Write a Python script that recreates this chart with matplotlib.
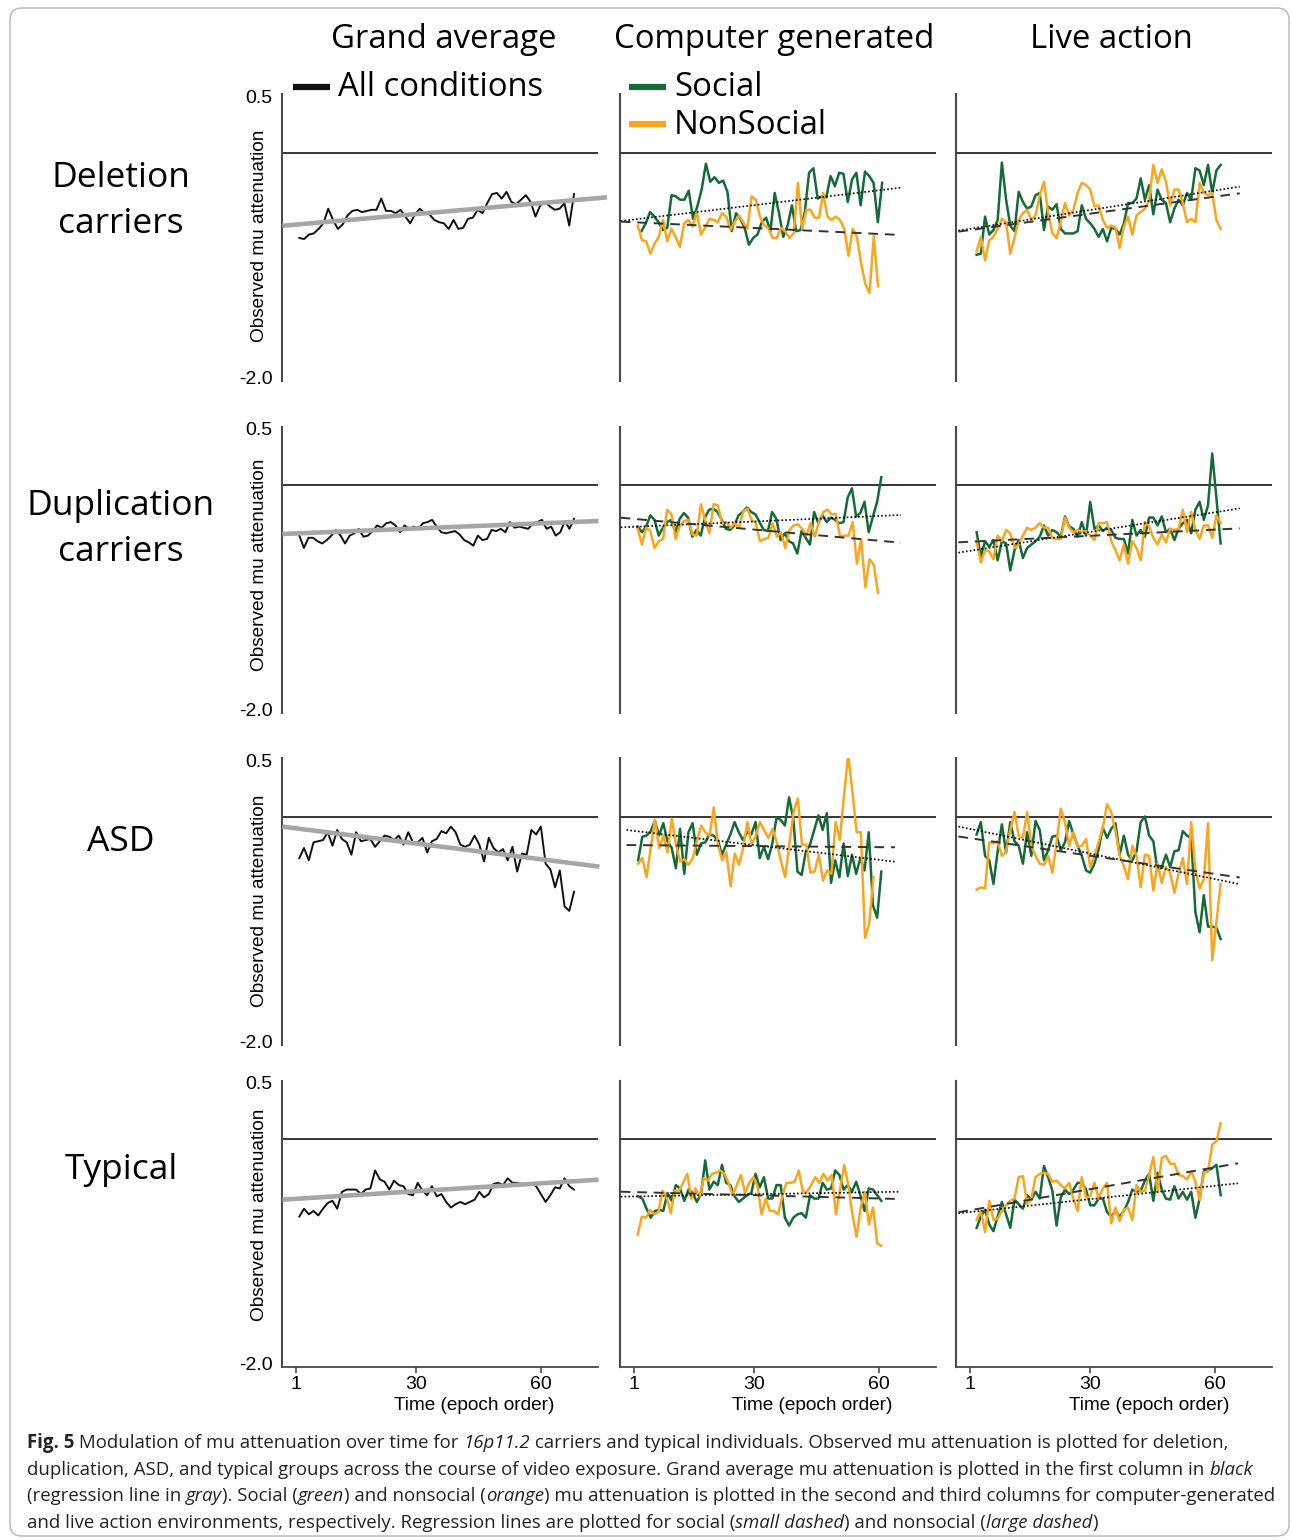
import numpy as np
import matplotlib
matplotlib.use("Agg")
import matplotlib.pyplot as plt
from matplotlib.lines import Line2D
from matplotlib.patches import FancyBboxPatch
from matplotlib.transforms import IdentityTransform

# ---------------------------------------------------------
# Values (mu attenuation per epoch)
# ---------------------------------------------------------
col_titles = ["Grand average", "Computer generated", "Live action"]
row_labels = [["Deletion", "carriers"], ["Duplication", "carriers"], ["ASD"], ["Typical"]]
x_ticks = [1, 30, 60]
y_ticks = [0.5, -2.0]
y_tick_labels = ["0.5", "-2.0"]

# grand average (black), first column
ga_del = [-0.76, -0.77, -0.73, -0.72, -0.68, -0.63, -0.50, -0.60, -0.68, -0.64, -0.56, -0.52, -0.51, -0.53, -0.52,
          -0.51, -0.51, -0.41, -0.52, -0.52, -0.54, -0.51, -0.57, -0.63, -0.55, -0.50, -0.54, -0.55, -0.60, -0.62,
          -0.63, -0.68, -0.60, -0.68, -0.67, -0.59, -0.58, -0.51, -0.54, -0.45, -0.37, -0.36, -0.41, -0.35, -0.44,
          -0.46, -0.42, -0.38, -0.44, -0.57, -0.47, -0.44, -0.48, -0.51, -0.50, -0.45, -0.65, -0.37]
ga_dup = [-0.45, -0.56, -0.47, -0.47, -0.50, -0.52, -0.49, -0.45, -0.40, -0.45, -0.52, -0.45, -0.43, -0.39, -0.46,
          -0.45, -0.41, -0.36, -0.38, -0.34, -0.33, -0.36, -0.42, -0.36, -0.39, -0.37, -0.39, -0.34, -0.33, -0.31,
          -0.37, -0.42, -0.43, -0.42, -0.41, -0.44, -0.49, -0.51, -0.54, -0.45, -0.49, -0.48, -0.40, -0.41, -0.39,
          -0.42, -0.33, -0.38, -0.37, -0.38, -0.39, -0.34, -0.33, -0.31, -0.39, -0.37, -0.45, -0.42, -0.32, -0.39, -0.30]
ga_asd = [-0.37, -0.28, -0.39, -0.23, -0.22, -0.21, -0.14, -0.26, -0.12, -0.20, -0.23, -0.34, -0.14, -0.22, -0.21,
          -0.20, -0.27, -0.22, -0.17, -0.18, -0.21, -0.17, -0.25, -0.14, -0.23, -0.23, -0.19, -0.32, -0.22, -0.20,
          -0.13, -0.15, -0.09, -0.14, -0.25, -0.27, -0.25, -0.17, -0.25, -0.40, -0.19, -0.28, -0.32, -0.29, -0.39,
          -0.27, -0.49, -0.33, -0.34, -0.12, -0.16, -0.09, -0.42, -0.47, -0.63, -0.48, -0.80, -0.84, -0.67]
ga_typ = [-0.69, -0.62, -0.67, -0.64, -0.68, -0.62, -0.57, -0.55, -0.62, -0.47, -0.45, -0.45, -0.45, -0.49, -0.45,
          -0.44, -0.28, -0.36, -0.38, -0.45, -0.37, -0.41, -0.42, -0.49, -0.50, -0.39, -0.46, -0.50, -0.42, -0.51,
          -0.49, -0.56, -0.61, -0.58, -0.56, -0.58, -0.56, -0.54, -0.47, -0.52, -0.49, -0.40, -0.39, -0.41, -0.35,
          -0.39, -0.39, -0.40, -0.40, -0.39, -0.42, -0.49, -0.56, -0.50, -0.43, -0.44, -0.35, -0.42, -0.45]
ga_span = (1.8, 68.0)
# gray regression line: value at first / last epoch
ga_reg = [(-0.652, -0.399), (-0.436, -0.320), (-0.090, -0.446), (-0.540, -0.362)]
ga_reg_x = [(-2.3, 75.9), (-2.3, 73.9), (-2.3, 74.1), (-2.3, 73.9)]

# computer generated, social (green)
cg_soc_del = [-0.70, -0.63, -0.53, -0.57, -0.62, -0.69, -0.67, -0.38, -0.39, -0.42, -0.42, -0.34, -0.59, -0.48, -0.33,
              -0.10, -0.26, -0.22, -0.27, -0.25, -0.35, -0.70, -0.54, -0.59, -0.67, -0.82, -0.76, -0.73, -0.62, -0.58,
              -0.70, -0.36, -0.54, -0.75, -0.65, -0.47, -0.70, -0.69, -0.53, -0.18, -0.14, -0.41, -0.39, -0.40, -0.21,
              -0.30, -0.18, -0.19, -0.44, -0.24, -0.18, -0.47, -0.17, -0.21, -0.27, -0.62, -0.27]
cg_soc_dup = [-0.37, -0.42, -0.37, -0.27, -0.31, -0.45, -0.38, -0.33, -0.31, -0.42, -0.30, -0.25, -0.29, -0.46, -0.40,
              -0.45, -0.29, -0.22, -0.21, -0.24, -0.31, -0.39, -0.40, -0.36, -0.27, -0.24, -0.20, -0.24, -0.26, -0.33,
              -0.40, -0.41, -0.24, -0.30, -0.49, -0.43, -0.50, -0.52, -0.61, -0.41, -0.47, -0.53, -0.24, -0.34, -0.27,
              -0.33, -0.29, -0.31, -0.34, -0.33, -0.11, -0.03, -0.28, -0.25, -0.15, -0.42, -0.28, -0.15, 0.07]
cg_soc_asd = [-0.39, -0.18, -0.17, -0.13, -0.04, -0.17, -0.06, -0.22, -0.28, -0.46, -0.11, -0.51, -0.14, -0.06, -0.34,
              -0.24, -0.23, -0.16, -0.17, -0.21, -0.34, -0.25, -0.16, -0.05, -0.14, -0.21, -0.14, -0.16, -0.05, -0.37,
              -0.27, -0.38, -0.24, -0.01, -0.03, -0.08, 0.17, -0.02, -0.49, -0.52, -0.31, -0.25, -0.12, 0.01, -0.12,
              0.03, -0.59, -0.39, -0.54, -0.24, -0.53, -0.34, -0.51, -0.37, -0.48, -0.14, -0.79, -0.90, -0.49]
cg_soc_typ = [-0.51, -0.53, -0.62, -0.70, -0.64, -0.63, -0.64, -0.48, -0.55, -0.41, -0.44, -0.55, -0.45, -0.48, -0.56,
              -0.49, -0.19, -0.45, -0.38, -0.41, -0.23, -0.39, -0.41, -0.51, -0.56, -0.53, -0.50, -0.48, -0.31, -0.43,
              -0.34, -0.53, -0.53, -0.41, -0.41, -0.70, -0.77, -0.70, -0.67, -0.66, -0.70, -0.50, -0.53, -0.53, -0.39,
              -0.45, -0.44, -0.28, -0.32, -0.45, -0.41, -0.47, -0.38, -0.50, -0.64, -0.44, -0.45, -0.50, -0.55]
cg_soc_span = [(2.8, 60.8), (1.9, 60.6), (2.0, 60.6), (2.0, 60.6)]

# computer generated, nonsocial (orange)
cg_non_del = [-0.65, -0.78, -0.79, -0.90, -0.81, -0.75, -0.60, -0.79, -0.68, -0.75, -0.84, -0.63, -0.60, -0.66, -0.53,
              -0.73, -0.67, -0.59, -0.60, -0.62, -0.54, -0.57, -0.69, -0.62, -0.56, -0.62, -0.68, -0.39, -0.42, -0.57,
              -0.65, -0.67, -0.76, -0.76, -0.67, -0.70, -0.76, -0.72, -0.27, -0.68, -0.51, -0.51, -0.58, -0.58, -0.36,
              -0.57, -0.60, -0.57, -0.60, -0.68, -0.92, -0.68, -0.75, -0.99, -1.17, -1.25, -0.74, -1.19]
cg_non_dup = [-0.39, -0.53, -0.38, -0.41, -0.56, -0.50, -0.48, -0.22, -0.26, -0.48, -0.36, -0.32, -0.31, -0.44, -0.45,
              -0.17, -0.31, -0.43, -0.17, -0.18, -0.34, -0.33, -0.38, -0.34, -0.38, -0.24, -0.21, -0.31, -0.34, -0.50,
              -0.48, -0.47, -0.34, -0.46, -0.42, -0.56, -0.40, -0.36, -0.35, -0.39, -0.45, -0.34, -0.46, -0.33, -0.24,
              -0.22, -0.26, -0.26, -0.46, -0.45, -0.45, -0.33, -0.70, -0.48, -0.91, -0.66, -0.71, -0.96]
cg_non_asd = [-0.42, -0.37, -0.54, -0.28, -0.03, -0.28, -0.17, -0.32, -0.02, -0.25, -0.40, -0.38, -0.43, -0.37, -0.22,
              -0.08, -0.14, -0.17, 0.08, -0.25, -0.39, -0.32, -0.62, -0.33, -0.43, -0.28, -0.05, -0.25, -0.17, -0.05,
              -0.12, -0.19, -0.11, -0.23, -0.40, -0.54, -0.24, 0.04, 0.16, -0.25, -0.25, -0.50, -0.49, -0.34, -0.57,
              -0.48, -0.51, -0.05, -0.21, 0.19, 0.55, 0.22, -0.14, -0.14, -1.08, -0.95, -0.54]
cg_non_typ = [-0.85, -0.69, -0.70, -0.63, -0.67, -0.65, -0.46, -0.51, -0.66, -0.46, -0.46, -0.39, -0.31, -0.53, -0.44,
              -0.51, -0.35, -0.37, -0.31, -0.30, -0.28, -0.31, -0.39, -0.50, -0.41, -0.32, -0.48, -0.39, -0.34, -0.42,
              -0.67, -0.53, -0.64, -0.64, -0.67, -0.51, -0.39, -0.39, -0.38, -0.28, -0.47, -0.47, -0.41, -0.34, -0.39,
              -0.31, -0.37, -0.32, -0.67, -0.45, -0.23, -0.41, -0.67, -0.87, -0.61, -0.47, -0.76, -0.61, -0.93, -0.95]
cg_non_span = [(1.9, 59.8), (1.9, 59.8), (2.0, 58.7), (1.9, 60.6)]

# live action, social (green)
la_soc_del = [-0.91, -0.90, -0.57, -0.73, -0.69, -0.60, -0.09, -0.42, -0.65, -0.70, -0.35, -0.44, -0.50, -0.48, -0.38,
              -0.36, -0.69, -0.48, -0.51, -0.46, -0.68, -0.72, -0.72, -0.72, -0.70, -0.47, -0.59, -0.63, -0.68, -0.75,
              -0.68, -0.79, -0.67, -0.68, -0.73, -0.63, -0.45, -0.45, -0.41, -0.23, -0.42, -0.29, -0.55, -0.33, -0.42,
              -0.45, -0.62, -0.50, -0.42, -0.47, -0.36, -0.42, -0.14, -0.16, -0.29, -0.11, -0.36, -0.16, -0.11]
la_soc_dup = [-0.42, -0.64, -0.50, -0.55, -0.49, -0.67, -0.50, -0.52, -0.76, -0.58, -0.49, -0.65, -0.56, -0.53, -0.50,
              -0.46, -0.36, -0.45, -0.40, -0.42, -0.46, -0.28, -0.37, -0.39, -0.46, -0.33, -0.45, -0.15, -0.39, -0.36,
              -0.41, -0.38, -0.40, -0.47, -0.48, -0.48, -0.61, -0.31, -0.45, -0.40, -0.46, -0.29, -0.29, -0.36, -0.28,
              -0.42, -0.39, -0.49, -0.39, -0.34, -0.31, -0.43, -0.22, -0.15, -0.31, -0.18, 0.28, -0.12, -0.52]
la_soc_asd = [-0.16, -0.05, -0.35, -0.39, -0.60, -0.31, -0.07, -0.32, -0.05, -0.22, -0.26, -0.42, -0.14, -0.35, -0.04,
              -0.12, -0.39, -0.30, -0.18, -0.17, -0.30, -0.23, -0.04, -0.16, -0.26, -0.35, -0.48, -0.50, -0.42, -0.29,
              -0.10, -0.19, -0.11, -0.06, -0.34, -0.17, -0.34, -0.39, -0.31, -0.05, 0.00, -0.17, -0.22, -0.48, -0.45,
              -0.34, -0.45, -0.31, -0.30, -0.13, -0.17, -0.19, -0.85, -1.03, -0.70, -0.98, -0.98, -0.99, -1.09]
la_soc_typ = [-0.79, -0.69, -0.63, -0.76, -0.82, -0.69, -0.56, -0.67, -0.79, -0.54, -0.58, -0.62, -0.50, -0.54, -0.47,
              -0.53, -0.24, -0.34, -0.46, -0.77, -0.52, -0.45, -0.49, -0.45, -0.39, -0.39, -0.45, -0.59, -0.59, -0.53,
              -0.53, -0.65, -0.69, -0.64, -0.69, -0.64, -0.56, -0.45, -0.47, -0.46, -0.37, -0.31, -0.55, -0.30, -0.45,
              -0.53, -0.54, -0.42, -0.53, -0.47, -0.54, -0.47, -0.70, -0.53, -0.29, -0.28, -0.26, -0.23, -0.50]

# live action, nonsocial (orange)
la_non_del = [-0.88, -0.75, -0.96, -0.78, -0.75, -0.68, -0.59, -0.62, -0.90, -0.76, -0.60, -0.54, -0.51, -0.60, -0.56,
              -0.38, -0.26, -0.53, -0.72, -0.76, -0.62, -0.45, -0.56, -0.51, -0.36, -0.27, -0.29, -0.33, -0.48, -0.47,
              -0.60, -0.67, -0.65, -0.67, -0.85, -0.66, -0.57, -0.73, -0.56, -0.53, -0.50, -0.42, -0.11, -0.27, -0.15,
              -0.26, -0.47, -0.33, -0.33, -0.45, -0.62, -0.59, -0.62, -0.27, -0.36, -0.38, -0.36, -0.60, -0.68]
la_non_dup = [-0.50, -0.69, -0.58, -0.59, -0.66, -0.45, -0.50, -0.40, -0.43, -0.56, -0.53, -0.45, -0.38, -0.40, -0.38,
              -0.34, -0.38, -0.38, -0.47, -0.48, -0.48, -0.29, -0.38, -0.42, -0.40, -0.42, -0.41, -0.45, -0.49, -0.34,
              -0.34, -0.33, -0.50, -0.58, -0.67, -0.53, -0.70, -0.50, -0.56, -0.67, -0.33, -0.37, -0.47, -0.53, -0.44,
              -0.51, -0.39, -0.40, -0.39, -0.22, -0.42, -0.24, -0.40, -0.48, -0.36, -0.36, -0.47, -0.27, -0.34]
la_non_asd = [-0.65, -0.63, -0.64, -0.23, -0.24, -0.22, -0.35, -0.31, -0.12, 0.04, -0.17, -0.19, 0.04, -0.26, -0.35,
              -0.42, -0.43, -0.35, -0.50, -0.23, 0.07, -0.05, -0.26, -0.14, -0.27, -0.26, -0.20, -0.45, -0.35, -0.23,
              -0.10, 0.11, 0.04, -0.13, -0.35, -0.44, -0.56, -0.26, -0.35, -0.63, -0.34, -0.35, -0.66, -0.42, -0.59,
              -0.45, -0.50, -0.68, -0.51, -0.37, -0.60, -0.05, -0.48, -0.64, -0.56, -0.06, -1.28, -0.94, -0.60]
la_non_typ = [-0.72, -0.64, -0.83, -0.55, -0.72, -0.71, -0.64, -0.59, -0.55, -0.53, -0.34, -0.33, -0.58, -0.53, -0.34,
              -0.31, -0.30, -0.31, -0.38, -0.37, -0.41, -0.44, -0.39, -0.53, -0.64, -0.34, -0.52, -0.51, -0.39, -0.53,
              -0.44, -0.39, -0.75, -0.61, -0.73, -0.63, -0.61, -0.72, -0.41, -0.47, -0.46, -0.32, -0.16, -0.47, -0.17,
              -0.15, -0.22, -0.22, -0.32, -0.33, -0.36, -0.29, -0.38, -0.54, -0.30, -0.29, -0.05, -0.02, 0.14]
la_span = (2.6, 61.4)

# regression lines (value at first / last epoch): social = small dashed, nonsocial = large dashed
cg_soc_reg = [(-0.610, -0.313), (-0.377, -0.267), (-0.120, -0.402), (-0.513, -0.469)]
cg_non_reg = [(-0.615, -0.734), (-0.291, -0.513), (-0.254, -0.274), (-0.469, -0.534)]
cg_reg_x = [(-2.2, 65.3), (-2.2, 65.3), (-0.8, 63.9), (-2.2, 65.0)]
la_soc_reg = [(-0.695, -0.304), (-0.602, -0.208), (-0.089, -0.602), (-0.661, -0.394)]
la_non_reg = [(-0.704, -0.363), (-0.510, -0.386), (-0.178, -0.543), (-0.652, -0.216)]
la_reg_x = [(-1.8, 66.0), (-1.8, 66.0), (-1.8, 66.0), (-1.8, 65.6)]

# ---------------------------------------------------------
# Layout / style
# ---------------------------------------------------------
W, H = 1292, 1540
GREEN = "#156a37"
ORANGE = "#f8a51f"
GRAY_REG = "#a6a6a6"
HEAD_FONT = "Open Sans"
AX_FONT = "Liberation Sans"
CAP_FONT = "Open Sans"

col_left = [282, 620, 956]
row_zero = [152.5, 485, 816.5, 1139]
px_epoch = 4.15
px_unit = 112.4
xlim = (-2.37, 73.8)
ylim = (-2.03, 0.52)

fig = plt.figure(figsize=(W / 100, H / 100), dpi=100)
renderer = fig.canvas.get_renderer()


def fx(px):
    return px / W


def fy(py):
    return 1 - py / H


def text_width(s, size, **kw):
    t = fig.text(0, 0, s, fontsize=size, **kw)
    w = t.get_window_extent(renderer=renderer).width
    t.remove()
    return w


def size_for(s, target, **kw):
    return 20 * target / text_width(s, 20, **kw)


ga = [ga_del, ga_dup, ga_asd, ga_typ]
cg_soc = [cg_soc_del, cg_soc_dup, cg_soc_asd, cg_soc_typ]
cg_non = [cg_non_del, cg_non_dup, cg_non_asd, cg_non_typ]
la_soc = [la_soc_del, la_soc_dup, la_soc_asd, la_soc_typ]
la_non = [la_non_del, la_non_dup, la_non_asd, la_non_typ]

ax_w = (xlim[1] - xlim[0]) * px_epoch
ax_h = (ylim[1] - ylim[0]) * px_unit

for r in range(4):
    top = row_zero[r] - ylim[1] * px_unit
    for c in range(3):
        ax = fig.add_axes([fx(col_left[c]), fy(top + ax_h), ax_w / W, ax_h / H])
        ax.set_xlim(*xlim)
        ax.set_ylim(*ylim)
        ax.patch.set_visible(False)
        for s in ["top", "right"]:
            ax.spines[s].set_visible(False)
        ax.spines["left"].set_color("#4a4a4a")
        ax.spines["left"].set_linewidth(1.5)
        ax.spines["bottom"].set_color("#4a4a4a")
        ax.spines["bottom"].set_linewidth(1.3)
        ax.spines["bottom"].set_visible(r == 3)
        ax.axhline(0, color="black", lw=1.1, zorder=1)

        if c == 0:
            ax.set_yticks(y_ticks)
            ax.set_yticklabels(y_tick_labels, fontsize=14, family=AX_FONT)
            ax.tick_params(axis="y", length=0, pad=7)
        else:
            ax.set_yticks([])
        if r == 3:
            ax.set_xticks(x_ticks)
            ax.set_xticklabels([str(t) for t in x_ticks], fontsize=14, family=AX_FONT)
            ax.tick_params(axis="x", length=4, width=1.2, color="#4a4a4a", pad=2)
        else:
            ax.set_xticks([])

        if c == 0:
            x = np.linspace(ga_span[0], ga_span[1], len(ga[r]))
            ax.plot(x, ga[r], color="#111111", lw=1.4, zorder=2)
            ax.plot(ga_reg_x[r], ga_reg[r], color=GRAY_REG, lw=3.3,
                    solid_capstyle="butt", clip_on=False, zorder=3)
        else:
            if c == 1:
                soc, non = cg_soc[r], cg_non[r]
                soc_span, non_span = cg_soc_span[r], cg_non_span[r]
                soc_reg, non_reg, reg_x = cg_soc_reg[r], cg_non_reg[r], cg_reg_x[r]
            else:
                soc, non = la_soc[r], la_non[r]
                soc_span, non_span = la_span, la_span
                soc_reg, non_reg, reg_x = la_soc_reg[r], la_non_reg[r], la_reg_x[r]
            ax.plot(np.linspace(soc_span[0], soc_span[1], len(soc)), soc, color=GREEN, lw=1.8, zorder=2)
            ax.plot(np.linspace(non_span[0], non_span[1], len(non)), non, color=ORANGE, lw=1.8, zorder=2)
            ax.plot(reg_x, soc_reg, color="black", lw=1.2, ls=(0, (1, 1.3)), zorder=3)
            ax.plot(reg_x, non_reg, color="#333333", lw=1.4, ls=(0, (5, 3.5)), zorder=3)

# y labels and x labels
ylab_size = size_for("Observed mu attenuation", 213, family=AX_FONT)
for cy in [236, 565, 901, 1215]:
    fig.text(fx(260), fy(cy), "Observed mu attenuation", rotation=90, ha="center", va="center",
             fontsize=ylab_size, family=AX_FONT)
for cx in [474, 812, 1149]:
    fig.text(fx(cx), fy(1406), "Time (epoch order)", ha="center", va="center",
             fontsize=ylab_size, family=AX_FONT)

# column titles, row labels, legend
head_size = size_for("Computer generated", 320, family=HEAD_FONT)
for cx, title in zip([444, 774, 1111], col_titles):
    fig.text(fx(cx), fy(40), title, ha="center", va="center", fontsize=head_size, family=HEAD_FONT)

row_size = size_for("Duplication", 188, family=HEAD_FONT)
label_y = [[178, 224], [506, 552], [842], [1170]]
for lines, ys in zip(row_labels, label_y):
    for s, y in zip(lines, ys):
        fig.text(fx(121), fy(y), s, ha="center", va="center", fontsize=row_size, family=HEAD_FONT)

legend = [(293, 87, "#111111", "All conditions"), (629, 87, GREEN, "Social"), (629, 124, ORANGE, "NonSocial")]
for lx, ly, color, label in legend:
    fig.add_artist(Line2D([fx(lx), fx(lx + 37)], [fy(ly), fy(ly)], color=color, lw=4.5,
                          solid_capstyle="butt"))
    fig.text(fx(lx + 45), fy(ly + 1), label, ha="left", va="center", fontsize=head_size, family=HEAD_FONT)

# ---------------------------------------------------------
# Caption (mixed bold / italic runs)
# ---------------------------------------------------------
caption = [
    [("Fig. 5", "bold"), (" Modulation of mu attenuation over time for ", ""), ("16p11.2", "italic"),
     (" carriers and typical individuals. Observed mu attenuation is plotted for deletion,", "")],
    [("duplication, ASD, and typical groups across the course of video exposure. Grand average mu attenuation "
      "is plotted in the first column in ", ""), ("black", "italic")],
    [("(regression line in ", ""), ("gray", "italic"), ("). Social (", ""), ("green", "italic"),
     (") and nonsocial (", ""), ("orange", "italic"),
     (") mu attenuation is plotted in the second and third columns for computer-generated", "")],
    [("and live action environments, respectively. Regression lines are plotted for social (", ""),
     ("small dashed", "italic"), (") and nonsocial (", ""), ("large dashed", "italic"), (")", "")],
]


def run_props(style):
    return dict(family=CAP_FONT, fontweight="bold" if style == "bold" else "normal",
                fontstyle="italic" if style == "italic" else "normal")


def run_width(s, size, style):
    kw = run_props(style)
    return text_width("x" + s + "x", size, **kw) - text_width("xx", size, **kw)


line1 = sum(run_width(s, 12, st) for s, st in caption[0])
cap_size = 12 * 1195 / line1
for cy, runs in zip([1443, 1470, 1496, 1523], caption):
    x = 27
    for s, st in runs:
        fig.text(fx(x), fy(cy), s, ha="left", va="center", fontsize=cap_size, color="#222222",
                 **run_props(st))
        x += run_width(s, cap_size, st)

# rounded frame around the whole figure
fig.add_artist(FancyBboxPatch((10, 4), 1279, 1528, boxstyle="round,pad=0,rounding_size=12",
                              transform=IdentityTransform(), fill=False, ec="#b5b5b5", lw=1))

fig.savefig("out.png", dpi=100)
